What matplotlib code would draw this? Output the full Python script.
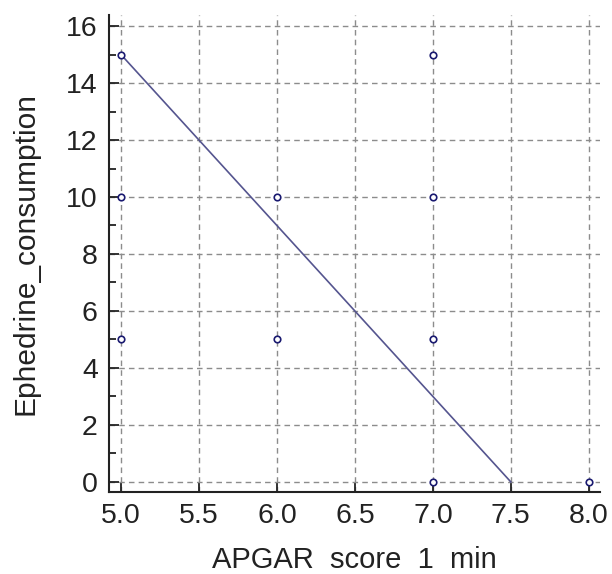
import matplotlib
matplotlib.use("Agg")
import matplotlib.pyplot as plt
from matplotlib.ticker import MultipleLocator

plt.rcParams['font.family'] = ['Liberation Sans', 'DejaVu Sans']

apgar = [5, 5, 5, 6, 6, 7, 7, 7, 7, 8]
ephedrine = [15, 10, 5, 10, 5, 15, 10, 5, 0, 0]
fit_x = [5.0, 7.5]
fit_y = [15.0, 0.0]
xticks = [5.0, 5.5, 6.0, 6.5, 7.0, 7.5, 8.0]
yticks = [0, 2, 4, 6, 8, 10, 12, 14, 16]

fig = plt.figure(figsize=(6.12, 5.74), dpi=100)
ax = fig.add_axes([0.178, 0.143, 0.802, 0.831])

ax.grid(True, color='#8c8c8c', linestyle=(0, (4, 3)), linewidth=1.0)
ax.set_axisbelow(True)
ax.plot(fit_x, fit_y, color='#55558f', linewidth=1.2, zorder=3)
ax.scatter(apgar, ephedrine, s=22, facecolors='white', edgecolors='#1a1a70',
           linewidths=1.2, zorder=4, clip_on=False)

ax.set_xlim(4.923, 8.07)
ax.set_ylim(-0.35, 16.39)
ax.set_xticks(xticks)
ax.set_xticklabels([f"{v:.1f}" for v in xticks])
ax.set_yticks(yticks)
ax.set_yticklabels([str(v) for v in yticks])
ax.yaxis.set_minor_locator(MultipleLocator(1))

for s in ['top', 'right']:
    ax.spines[s].set_visible(False)
for s in ['left', 'bottom']:
    ax.spines[s].set_linewidth(1.5)
    ax.spines[s].set_color('#222222')

ax.tick_params(axis='both', which='major', direction='in', length=7, width=1.3,
               labelsize=20.5, colors='#222222', pad=8)
ax.tick_params(axis='y', which='minor', direction='in', length=5, width=1.3, colors='#222222')

ax.set_xlabel('APGAR  score  1  min', fontsize=21, labelpad=12, color='#222222')
ax.set_ylabel('Ephedrine_consumption', fontsize=21.5, labelpad=19, color='#222222')

fig.savefig('out.png', dpi=100)
